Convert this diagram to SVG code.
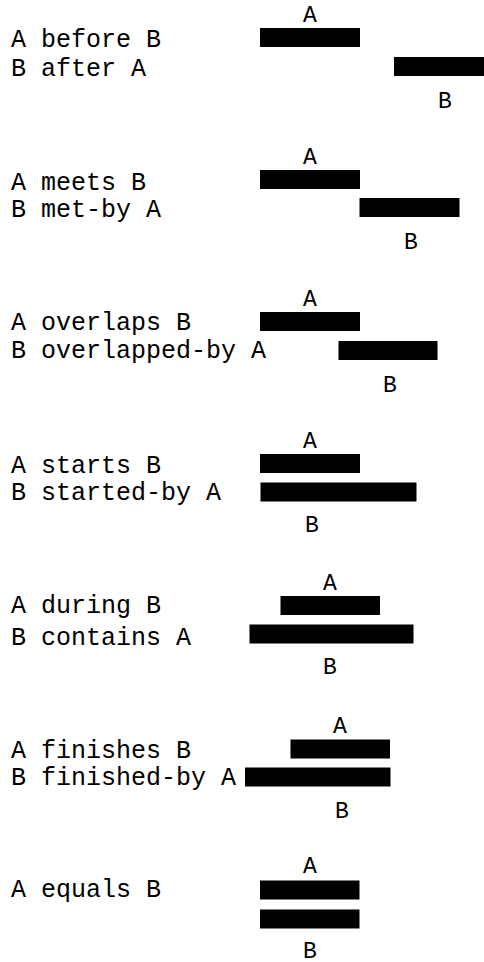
<svg xmlns="http://www.w3.org/2000/svg" width="484" height="962" viewBox="0 0 484 962">
<style>
text{font-family:"Liberation Mono","DejaVu Sans Mono",monospace;fill:#000}
.d{font-size:25px}
.l{font-size:23px;text-anchor:middle}
.bar{fill:#000}
</style>
<rect width="484" height="962" fill="#fff"/>
<g id="before">
<text class="d" x="11" y="47">A before B</text>
<text class="d" x="11" y="76">B after A</text>
<text class="l" x="310" y="22">A</text>
<rect class="bar" x="260" y="28" width="100" height="19"/>
<rect class="bar" x="394" y="57" width="100" height="19"/>
<text class="l" x="445" y="108">B</text>
</g>
<g id="meets">
<text class="d" x="11" y="190">A meets B</text>
<text class="d" x="11" y="217">B met-by A</text>
<text class="l" x="310" y="164">A</text>
<rect class="bar" x="260" y="170" width="100" height="19"/>
<rect class="bar" x="359.5" y="198" width="100" height="19"/>
<text class="l" x="411" y="249">B</text>
</g>
<g id="overlaps">
<text class="d" x="11" y="330">A overlaps B</text>
<text class="d" x="11" y="358">B overlapped-by A</text>
<text class="l" x="310" y="306">A</text>
<rect class="bar" x="260" y="312" width="100" height="19"/>
<rect class="bar" x="338.5" y="341" width="99" height="19"/>
<text class="l" x="390" y="392">B</text>
</g>
<g id="starts">
<text class="d" x="11" y="473">A starts B</text>
<text class="d" x="11" y="500">B started-by A</text>
<text class="l" x="310" y="448">A</text>
<rect class="bar" x="260" y="454" width="100" height="19"/>
<rect class="bar" x="260.5" y="482.5" width="156" height="19"/>
<text class="l" x="312" y="532">B</text>
</g>
<g id="during">
<text class="d" x="11" y="613">A during B</text>
<text class="d" x="11" y="645">B contains A</text>
<text class="l" x="330" y="590">A</text>
<rect class="bar" x="280.5" y="596" width="99.5" height="19"/>
<rect class="bar" x="249.5" y="624.5" width="164" height="19"/>
<text class="l" x="330" y="674">B</text>
</g>
<g id="finishes">
<text class="d" x="11" y="758">A finishes B</text>
<text class="d" x="11" y="785">B finished-by A</text>
<text class="l" x="340" y="733">A</text>
<rect class="bar" x="290.5" y="739.5" width="99.5" height="19"/>
<rect class="bar" x="245" y="767.5" width="145.5" height="19"/>
<text class="l" x="342" y="818">B</text>
</g>
<g id="equals">
<text class="d" x="11" y="897">A equals B</text>
<text class="l" x="310" y="873">A</text>
<rect class="bar" x="260" y="880.5" width="99.5" height="19"/>
<rect class="bar" x="260" y="909.5" width="99.5" height="19"/>
<text class="l" x="310" y="958">B</text>
</g>
</svg>
